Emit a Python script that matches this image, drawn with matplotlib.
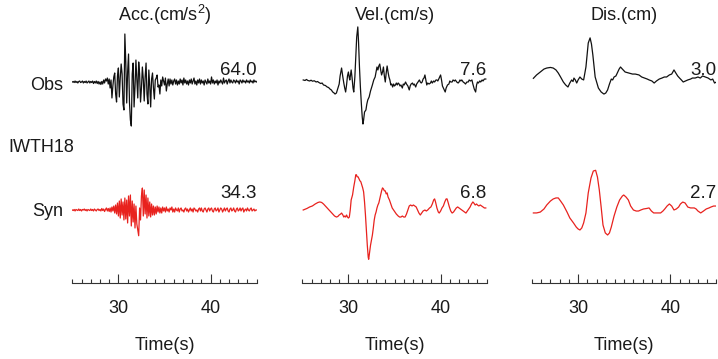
import numpy as np
import matplotlib
matplotlib.use("Agg")
import matplotlib.pyplot as plt
from matplotlib.ticker import FixedLocator, MultipleLocator

plt.rcParams['font.family'] = ['Liberation Sans', 'DejaVu Sans']
plt.rcParams['mathtext.fontset'] = 'custom'
plt.rcParams['mathtext.rm'] = 'Liberation Sans'
plt.rcParams['mathtext.it'] = 'Liberation Sans:italic'

# ---------------- data ----------------
station = "IWTH18"
columns = ["Acc.(cm/s$^2$)", "Vel.(cm/s)", "Dis.(cm)"]
rows = ["Obs", "Syn"]
peak_obs = ["64.0", "7.6", "3.0"]
peak_syn = ["34.3", "6.8", "2.7"]

# acceleration, sampled every 0.1 s from 25.0 to 45.0 s (cm/s^2)
acc_t = np.round(np.arange(25.0, 45.05, 0.1), 1)
acc_obs = [
    0, 0.7, -0.7, 1.3, -0.7, 0.7, -1.3, 0.7, 1.3, -0.7,
    0, 1.3, -1.3, 0.7, -0.7, 1.3, -1.3, 0, 1.3, -1.3,
    0.7, -0.7, 1.3, -2.0, 0.7, -1.3, 1.3, -2.0, 0.7, -2.7,
    0, -3.3, 0.7, -2.7, 2.7, -1.3, 4.0, 1.3, 5.3, -2.7,
    4.0, -8.0, 2.7, -21.3, -5.3, 6.7, 12.0, -16.0, -26.7, 8.0,
    18.7, -20.0, 5.3, 24.0, 10.7, -29.3, -37.3, 64.0, 26.7, -28.0,
    13.3, 37.3, -26.7, -50.7, -58.7, 10.7, 25.3, -33.3, -6.7, 29.3,
    4.0, -21.3, 26.7, 10.7, -26.7, -8.0, 20.0, 4.0, -25.3, 6.7,
    25.3, -16.0, -29.3, 16.0, -5.3, -33.3, 4.0, 12.0, -8.0, -22.7,
    2.7, 5.3, 9.3, -6.7, -4.0, -16.0, 2.7, -5.3, 6.7, 1.3,
    -4.0, 5.3, -12.0, -2.7, 4.0, -5.3, 4.0, -2.7, 2.7, -4.0,
    1.3, 4.0, -2.7, 2.7, -4.0, 1.3, -2.7, 4.0, -1.3, 2.7,
    -4.0, 5.3, -1.3, 2.7, -2.7, 1.3, -4.0, 2.7, -1.3, 4.0,
    -2.7, 1.3, 5.3, -2.7, 1.3, -4.0, 2.7, -1.3, 4.0, -2.7,
    2.7, -1.3, 1.3, -4.0, 2.7, 0, -2.7, 4.0, -1.3, 1.3,
    -2.7, 6.7, -1.3, 2.7, -2.7, 1.3, -1.3, 2.7, -4.0, 1.3,
    -1.3, 2.7, 0, -2.7, 5.3, -1.3, 1.3, 2.7, -2.7, 1.3,
    4.0, -1.3, 2.7, 0, -1.3, 2.7, 1.3, -1.3, 2.7, 0,
    1.3, -2.7, 2.7, 1.3, -1.3, 2.7, 0, 1.3, -1.3, 2.7,
    0, 1.3, -1.3, 2.7, 0, 1.3, -1.3, 2.7, 0, 1.3,
    0,
]
acc_syn = [
    0, -0.7, 0.7, -1.3, 0.7, 0, -0.7, 1.3, -0.7, 0.7,
    -1.3, 0.7, 0, 1.3, -0.7, 0.7, -1.3, 0.7, 0, -0.7,
    1.3, -0.7, 0.7, -1.3, 1.3, 0, -1.3, 0.7, 1.3, -0.7,
    0.7, -1.3, 2.0, -0.7, 1.3, -2.0, 0.7, 2.7, -1.3, 2.0,
    -2.0, 2.7, -2.7, 4.0, -1.3, 5.3, -4.0, 6.7, -5.3, 9.3,
    -8.0, 12.0, -10.7, 14.7, -6.7, 10.7, -13.3, 16.0, -12.0, 13.3,
    -17.3, 18.7, -8.0, 20.0, -21.3, 12.0, -16.0, 8.0, -24.0, 5.3,
    -18.7, -26.7, -34.3, 2.7, -13.3, 18.7, 29.3, -8.0, 26.7, -5.3,
    20.0, -10.7, 16.0, -8.0, 10.7, -9.3, 8.0, -6.7, 5.3, -6.7,
    4.0, -5.3, 5.3, -2.7, 4.0, -4.0, 2.7, -4.0, 4.0, -1.3,
    2.7, -2.7, 4.0, -1.3, 1.3, -2.7, 2.7, 0, 4.0, -2.7,
    1.3, -2.7, 2.7, 0, -1.3, 2.7, -2.7, 1.3, 2.7, -1.3,
    0, -2.7, 1.3, 2.7, -1.3, 1.3, -2.7, 0, 2.7, -1.3,
    1.3, -2.7, 2.7, 1.3, -1.3, 0, -2.7, 1.3, 2.7, -1.3,
    2.7, -1.3, -2.7, 1.3, 2.7, 0, -2.7, 1.3, 2.7, -1.3,
    1.3, 2.7, -1.3, -2.7, 1.3, 2.7, -1.3, 0, 2.7, -2.7,
    0, 2.7, 1.3, -2.7, 0, 2.7, -1.3, 1.3, 2.7, -1.3,
    -2.7, 1.3, 2.7, -1.3, 0, 2.7, -1.3, -2.7, 1.3, 2.7,
    -1.3, 0, 2.7, -1.3, 1.3, 2.7, -2.7, 0, 1.3, -1.3,
    2.7, 0, -1.3, 1.3, 2.7, -1.3, 0, 1.3, -1.3, 0,
    0,
]

# velocity (cm/s)
vel_obs_t = [
    25.1, 25.3, 25.45, 25.6, 25.8, 25.95, 26.1, 26.3, 26.5, 26.65,
    26.8, 27.0, 27.15, 27.3, 27.5, 27.7, 27.85, 28.0, 28.15, 28.3,
    28.45, 28.55, 28.7, 28.8, 28.9, 29.0, 29.1, 29.26, 29.38, 29.5,
    29.6, 29.7, 29.8, 29.9, 30.0, 30.08, 30.15, 30.22, 30.3, 30.4,
    30.5, 30.58, 30.7, 30.8, 30.9, 31.02, 31.1, 31.2, 31.3, 31.4,
    31.5, 31.58, 31.65, 31.75, 31.9, 32.0, 32.1, 32.25, 32.4, 32.5,
    32.6, 32.75, 32.9, 33.0, 33.1, 33.2, 33.3, 33.4, 33.5, 33.6,
    33.7, 33.8, 33.9, 34.0, 34.1, 34.2, 34.3, 34.4, 34.5, 34.6,
    34.7, 34.8, 34.9, 35.0, 35.1, 35.2, 35.3, 35.4, 35.5, 35.6,
    35.7, 35.85, 35.95, 36.05, 36.2, 36.3, 36.45, 36.6, 36.7, 36.8,
    36.95, 37.05, 37.15, 37.3, 37.4, 37.55, 37.7, 37.8, 37.9, 38.0,
    38.1, 38.2, 38.3, 38.4, 38.5, 38.6, 38.75, 38.9, 39.0, 39.1,
    39.25, 39.35, 39.5, 39.6, 39.7, 39.85, 40.0, 40.1, 40.2, 40.35,
    40.5, 40.6, 40.75, 40.9, 41.0, 41.1, 41.25, 41.35, 41.5, 41.6,
    41.75, 41.9, 42.0, 42.1, 42.2, 42.3, 42.45, 42.6, 42.7, 42.85,
    43.0, 43.1, 43.25, 43.4, 43.5, 43.65, 43.8, 43.9, 44.0, 44.1,
    44.25, 44.35, 44.5, 44.6, 44.75, 44.9,
]
vel_obs = [
    0.28, 0.21, 0.35, 0.21, 0.14, 0.25, 0.11, 0.17, 0, 0.07,
    -0.07, -0.21, -0.14, -0.41, -0.48, -0.69, -0.76, -0.97, -1.1, -1.38,
    -1.52, -1.66, -1.52, -1.1, -0.69, -0.28, 0.83, 1.93, 0.83, -0.14,
    -0.83, -1.38, -0.41, 0.83, 1.38, 0.69, 0.28, 0.97, 1.66, 0.55,
    -0.83, -1.38, 0.69, 3.45, 6.21, 7.6, 5.52, 2.07, -0.69, -2.9,
    -4.83, -5.8, -5.24, -4.14, -3.86, -3.04, -2.48, -2.07, -1.24, -0.83,
    -0.41, 0.28, 0.69, 1.38, 2.07, 1.66, 2.21, 2.48, 1.66, 0.97,
    1.38, 2.07, 0.83, 0, 1.24, 2.21, 1.38, 0.69, 0.28, -0.41,
    -0.28, -0.69, -0.28, -0.55, -0.41, -0.14, -0.41, -0.14, -0.28, -0.55,
    -0.41, -0.83, -0.28, -0.41, 0, -0.28, -0.55, -1.1, -0.55, -0.28,
    -0.14, -0.41, -0.28, -0.69, -0.28, 0, 0.28, 0, -0.14, 0,
    0.41, 0.55, 0.97, 0.28, -0.41, -0.14, -0.28, -0.14, 0.14, -0.14,
    0.14, 0, 0.28, 0.28, 0.14, 0.55, 0.97, 0.28, -0.55, -0.97,
    -1.38, -0.83, -0.41, -0.28, 0.14, 0, 0, 0.28, 0.14, 0.28,
    0, -0.14, 0, 0.28, 0.14, 0.28, 0, -0.14, -0.28, 0,
    0, 0.28, 0.14, 0.28, -0.28, -0.97, -1.38, -0.41, 0, -0.14,
    0.14, 0, 0.28, 0.14, 0.41, 0.41,
]
vel_syn_t = [
    25.1, 25.5, 25.8, 26.1, 26.4, 26.7, 26.9, 27.1, 27.3, 27.5,
    27.7, 27.9, 28.1, 28.3, 28.5, 28.7, 28.85, 29.0, 29.15, 29.26,
    29.4, 29.5, 29.6, 29.7, 29.8, 29.9, 30.0, 30.1, 30.2, 30.3,
    30.45, 30.58, 30.7, 30.8, 30.87, 30.95, 31.05, 31.15, 31.25, 31.35,
    31.45, 31.55, 31.65, 31.75, 31.85, 31.95, 32.05, 32.15, 32.2, 32.3,
    32.4, 32.5, 32.6, 32.7, 32.8, 32.9, 33.0, 33.1, 33.2, 33.3,
    33.4, 33.5, 33.6, 33.7, 33.8, 33.9, 34.0, 34.1, 34.2, 34.3,
    34.45, 34.6, 34.75, 34.9, 35.05, 35.2, 35.4, 35.55, 35.7, 35.85,
    36.0, 36.15, 36.3, 36.45, 36.6, 36.75, 36.9, 37.05, 37.2, 37.35,
    37.5, 37.65, 37.8, 37.95, 38.1, 38.3, 38.45, 38.6, 38.8, 38.95,
    39.1, 39.25, 39.35, 39.45, 39.6, 39.75, 39.85, 40.0, 40.15, 40.3,
    40.45, 40.6, 40.7, 40.8, 40.95, 41.1, 41.25, 41.4, 41.55, 41.7,
    41.85, 42.0, 42.15, 42.3, 42.45, 42.6, 42.75, 42.9, 43.05, 43.2,
    43.35, 43.5, 43.6, 43.75, 43.9, 44.0, 44.15, 44.3, 44.45, 44.6,
    44.75, 44.9,
]
vel_syn = [
    0, 0.21, 0.42, 0.56, 0.83, 1.04, 1.11, 1.04, 0.83, 0.56,
    0.28, 0, -0.28, -0.56, -0.83, -0.97, -0.9, -0.69, -0.56, -0.42,
    -0.69, -0.97, -0.83, -0.97, -0.69, -0.97, -1.11, -0.97, 0, 1.39,
    2.08, 3.19, 4.03, 4.86, 4.86, 4.58, 4.58, 4.3, 4.03, 3.89,
    3.47, 3.05, 2.5, 1.11, -0.69, -2.78, -4.86, -6.52, -6.8, -5.83,
    -4.86, -4.16, -3.47, -2.5, -1.39, -0.69, -0.28, 0.28, 0.69, 0.97,
    1.53, 2.08, 2.64, 3.05, 2.91, 2.64, 2.64, 2.22, 2.36, 1.8,
    1.39, 0.83, 0.28, 0, -0.28, -0.56, -0.83, -0.97, -0.97, -0.83,
    -0.97, -0.97, -0.56, 0, 0.56, 0.69, 0.56, 0.69, 0.56, 0.42,
    0, -0.42, -0.69, -0.42, -0.14, 0, -0.14, 0, 0.28, 0.42,
    0.83, 1.39, 1.53, 1.11, 0.28, -0.28, -0.42, -0.14, 0.28, 0.56,
    1.11, 1.53, 1.53, 1.11, 0.42, -0.14, -0.42, -0.28, 0, 0.28,
    0.42, 0.28, 0.14, 0, -0.14, -0.28, -0.42, -0.14, 0.14, 0.42,
    0.83, 1.11, 0.97, 0.69, 0.83, 0.69, 0.56, 0.69, 0.56, 0.42,
    0.28, 0.28,
]

# displacement (cm)
dis_obs_t = [
    25.15, 25.5, 25.9, 26.3, 26.6, 27.0, 27.3, 27.6, 27.85, 28.1,
    28.4, 28.65, 28.9, 29.1, 29.3, 29.45, 29.55, 29.7, 29.85, 30.0,
    30.2, 30.4, 30.6, 30.85, 31.1, 31.3, 31.45, 31.6, 31.85, 32.2,
    32.5, 32.8, 33.0, 33.2, 33.4, 33.6, 33.75, 33.9, 34.1, 34.25,
    34.45, 34.6, 34.8, 35.1, 35.5, 35.9, 36.2, 36.6, 36.9, 37.2,
    37.5, 37.7, 38.0, 38.25, 38.5, 38.8, 39.1, 39.35, 39.6, 39.9,
    40.15, 40.4, 40.6, 40.8, 41.0, 41.2, 41.4, 41.65, 41.9, 42.2,
    42.4, 42.7, 43.0, 43.25, 43.5, 43.8, 44.1, 44.4, 44.6, 44.8,
    45.0,
]
dis_obs = [
    0.25, 0.48, 0.68, 0.88, 0.95, 0.99, 0.95, 0.82, 0.61, 0.34,
    0, -0.2, -0.34, -0.07, 0.14, 0.03, 0.27, 0.14, -0.07, 0.14,
    0.34, 0.2, 0.14, 1.02, 2.65, 3.0, 2.58, 1.84, 0.34, -0.41,
    -0.68, -0.82, -0.75, -0.54, -0.14, 0.2, 0.14, 0.34, 0.41, 0.61,
    0.88, 1.02, 0.88, 0.68, 0.61, 0.54, 0.54, 0.48, 0.34, 0.27,
    0.2, 0.14, 0.07, -0.07, 0.07, 0.2, 0.27, 0.34, 0.34, 0.48,
    0.54, 0.82, 0.61, 0.41, 0.27, 0.14, 0, 0.07, 0.14, 0.2,
    0.27, 0.27, 0.34, 0.27, 0.41, 0.34, 0.27, 0.14, 0.2, -0.07,
    0,
]
dis_syn_t = [
    25.15, 25.5, 25.9, 26.3, 26.6, 27.0, 27.3, 27.6, 27.85, 28.1,
    28.4, 28.8, 29.1, 29.5, 29.8, 30.0, 30.2, 30.4, 30.6, 30.85,
    31.1, 31.4, 31.65, 31.9, 32.1, 32.3, 32.5, 32.7, 32.95, 33.2,
    33.4, 33.6, 33.9, 34.2, 34.5, 34.8, 34.95, 35.2, 35.45, 35.7,
    36.0, 36.3, 36.55, 36.8, 37.1, 37.4, 37.7, 37.95, 38.2, 38.6,
    38.95, 39.2, 39.4, 39.65, 39.9, 40.15, 40.4, 40.65, 40.9, 41.1,
    41.35, 41.6, 41.9, 42.2, 42.6, 42.8, 43.0, 43.3, 43.6, 43.9,
    44.2, 44.4, 44.7, 45.0,
]
dis_syn = [
    -0.2, -0.2, -0.14, 0.07, 0.34, 0.61, 0.75, 0.82, 0.82, 0.61,
    0.34, -0.14, -0.54, -0.88, -1.16, -1.29, -1.36, -1.22, -0.88, -0.2,
    1.16, 2.18, 2.65, 2.7, 2.24, 1.36, 0.2, -1.02, -1.56, -1.7,
    -1.56, -1.16, -0.41, 0.2, 0.68, 0.95, 1.02, 0.88, 0.68, 0.27,
    0, -0.07, -0.07, 0, 0.07, 0.1, 0.14, -0.07, -0.2, -0.2,
    -0.2, -0.07, 0.07, 0.27, 0.41, 0.27, 0, 0.07, 0.2, 0.41,
    0.54, 0.48, 0.2, 0.14, 0.14, 0.07, -0.07, -0.2, -0.07, 0.07,
    0.14, 0.2, 0.27, 0.27,
]

# ---------------- layout ----------------
W, H = 718, 359
fig = plt.figure(figsize=(W / 100, H / 100), dpi=100)


def fx(x):
    return x / W


def fy(y):
    return 1 - y / H


col_left = [72.3, 302.3, 532.0]
col_w = 184.4
ax_top, ax_bot = 20.0, 283.0
obs_base, syn_base = 82.0, 210.0
units_per_px = [1.333, 0.138, 0.068]

traces = [
    ((acc_t, acc_obs), (acc_t, acc_syn)),
    ((vel_obs_t, vel_obs), (vel_syn_t, vel_syn)),
    ((dis_obs_t, dis_obs), (dis_syn_t, dis_syn)),
]

obs_color = '#111111'
syn_color = '#e8221e'
text_color = '#1a1a1a'

for i in range(3):
    ax = fig.add_axes([fx(col_left[i]), fy(ax_bot), fx(col_w), (ax_bot - ax_top) / H])
    s = units_per_px[i]
    ax.set_xlim(25, 45)
    ax.set_ylim(-(ax_bot - syn_base) * s, (syn_base - ax_top) * s)
    off = (syn_base - obs_base) * s
    (to, vo), (ts, vs) = traces[i]
    ax.plot(to, np.asarray(vo) + off, color=obs_color, lw=0.9)
    ax.plot(ts, vs, color=syn_color, lw=0.9)
    for sp in ['left', 'right', 'top']:
        ax.spines[sp].set_visible(False)
    ax.spines['bottom'].set_linewidth(0.8)
    ax.spines['bottom'].set_color('#333333')
    ax.set_yticks([])
    ax.xaxis.set_major_locator(FixedLocator([30, 40]))
    ax.xaxis.set_minor_locator(MultipleLocator(1))
    ax.tick_params(axis='x', which='major', direction='in', length=6.5, width=0.8,
                   color='#333333', labelsize=13, labelcolor=text_color, pad=12)
    ax.tick_params(axis='x', which='minor', direction='in', length=3, width=0.8,
                   color='#333333')
    ax.patch.set_alpha(0)
    cx = col_left[i] + col_w / 2
    fig.text(fx(cx), fy(15), columns[i], ha='center', va='center', fontsize=13,
             color=text_color)
    fig.text(fx(cx), fy(345), "Time(s)", ha='center', va='center', fontsize=13,
             color=text_color)
    right = col_left[i] + col_w
    fig.text(fx(right), fy(75), peak_obs[i], ha='right', va='baseline', fontsize=13.5,
             color=text_color)
    fig.text(fx(right), fy(198), peak_syn[i], ha='right', va='baseline', fontsize=13.5,
             color=text_color)

fig.text(fx(63), fy(86), rows[0], ha='right', va='center', fontsize=13, color=text_color)
fig.text(fx(63), fy(211), rows[1], ha='right', va='center', fontsize=13, color=text_color)
fig.text(fx(8), fy(148), station, ha='left', va='center', fontsize=13, color=text_color)

fig.savefig("out.png", dpi=100)
